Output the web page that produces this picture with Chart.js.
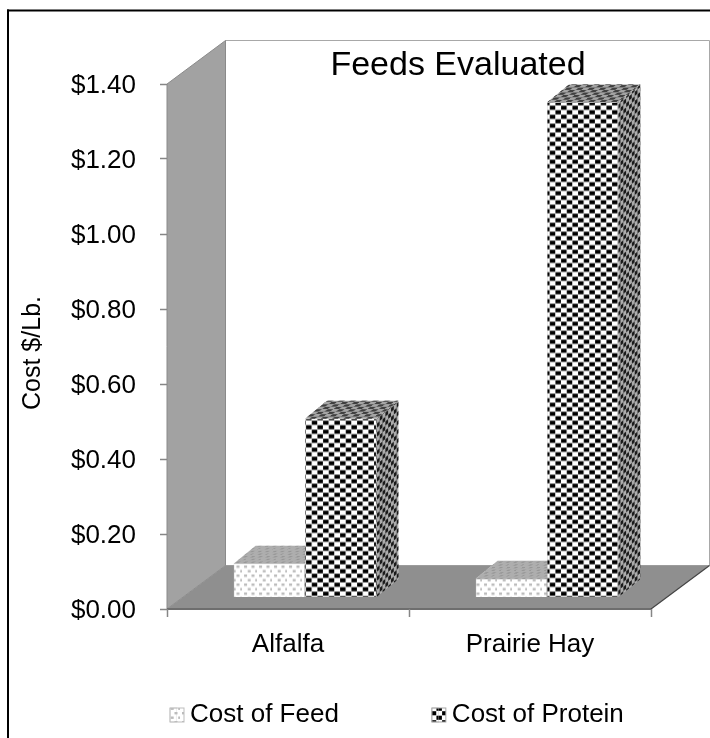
<!DOCTYPE html>
<html><head><meta charset="utf-8">
<style>html,body{margin:0;padding:0;background:#fff}canvas{display:block}</style>
<script src="https://cdn.jsdelivr.net/npm/chart.js@4"></script></head>
<body><canvas id="c" width="710" height="738"></canvas>
<script>
const categories = ['Alfalfa', 'Prairie Hay'];
const costOfFeed = [0.09, 0.05];
const costOfProtein = [0.477, 1.32];
const seriesNames = ['Cost of Feed', 'Cost of Protein'];
const yTickLabels = ['$0.00','$0.20','$0.40','$0.60','$0.80','$1.00','$1.20','$1.40'];

const FONT = '"Liberation Sans", Arial, sans-serif';
const WALL = {dx: 58.5, dy: -43.5};
const BAR_SHIFT = {x: 17, y: -11.5};
const BAR_DEPTH = {x: 22, y: -18};

function tile(w, h, paint) {
  const cv = document.createElement('canvas');
  cv.width = w; cv.height = h;
  const g = cv.getContext('2d');
  g.fillStyle = '#fff'; g.fillRect(0, 0, w, h);
  paint(g);
  return cv;
}
const checkTile = tile(34, 27, g => {
  g.fillStyle = '#000';
  const cw = 34 / 3, rh = 4.5;
  for (let r = 0; r < 6; r++) for (let c = -1; c < 3; c++) {
    g.fillRect(c * cw + (r % 2 ? cw / 2 : 0) + 0.1, r * rh + 0.2, cw / 2 - 0.2, rh - 0.4);
  }
});
const dotTile = tile(15, 9, g => {
  g.fillStyle = '#bcbcbc';
  [[2,1],[9.5,1],[5.7,5.5],[13.2,5.5]].forEach(p => g.fillRect(p[0], p[1], 3, 2.4));
});
const ctx0 = document.getElementById('c').getContext('2d');
const patProtein = ctx0.createPattern(checkTile, 'repeat');
const patFeed = ctx0.createPattern(dotTile, 'repeat');
function skewPat(cv, a, b, c, d) {
  const p = ctx0.createPattern(cv, 'repeat');
  p.setTransform(new DOMMatrix([a, b, c, d, 0, 0]));
  return p;
}
const faces = [
  {top: skewPat(dotTile, 1, 0, -0.8, 0.6), side: skewPat(dotTile, 0.5, -0.39, 0, 1), topTone: 'rgba(130,130,130,0.65)', sideTone: 'rgba(120,120,120,0.62)'},
  {top: skewPat(checkTile, 1, 0, -0.72, 0.55), side: skewPat(checkTile, 0.5, -0.39, 0, 1), topTone: 'rgba(105,105,105,0.6)', sideTone: 'rgba(60,60,60,0.42)'}
];

function poly(ctx, pts, fill, stroke) {
  ctx.beginPath();
  pts.forEach((p, i) => i ? ctx.lineTo(p[0], p[1]) : ctx.moveTo(p[0], p[1]));
  ctx.closePath();
  if (fill) { ctx.fillStyle = fill; ctx.fill(); }
  if (stroke) { ctx.strokeStyle = stroke; ctx.lineWidth = 1; ctx.stroke(); }
}

const scene = {
  id: 'scene',
  beforeLayout(chart) {
    const lg = chart.legend;
    if (lg && !lg._wrapped) {
      const fit = lg.fit.bind(lg);
      lg.fit = function () { this.maxWidth = 3000; fit(); this.height = 0; };
      lg._wrapped = true;
    }
  },
  afterLayout(chart) {
    const lg = chart.legend, t = chart.titleBlock, pad = lg.options.labels.padding;
    const y = chart.scales.y, x = chart.scales.x;
    lg.left = 170 - pad; lg.right = 1500; lg.top = 715 - 13 - pad; lg.bottom = 738;
    t.left += 49; t.right += 49; t.top += 2; t.bottom += 2;
    y.bottom += 13;
    [y, x].forEach(s => {
      if (!s._nudged) {
        const comp = s._computeLabelItems.bind(s);
        s._computeLabelItems = function (area) {
          const items = comp(area);
          items.forEach(it => { it.options.translation = [it.options.translation[0], it.options.translation[1] + 2]; });
          return items;
        };
        s._nudged = true;
      }
    });
  },
  beforeDraw(chart) {
    const {ctx, chartArea: a, scales: {y}} = chart;
    const b = y.getPixelForValue(0), tp = y.getPixelForValue(1.4);
    const L = a.left, R = a.right, dx = WALL.dx, dy = WALL.dy;
    ctx.save();
    ctx.fillStyle = '#000';
    ctx.fillRect(7, 9.5, 703, 2); ctx.fillRect(7, 9.5, 2, 729);
    poly(ctx, [[L + dx, tp + dy], [R + dx, tp + dy], [R + dx, b + dy], [L + dx, b + dy]], '#fff', '#a8a8a8');
    poly(ctx, [[L, tp], [L + dx, tp + dy], [L + dx, b + dy], [L, b]], '#a2a2a2', '#8a8a8a');
    poly(ctx, [[L, b], [L + dx, b + dy], [R + dx, b + dy], [R, b]], '#8f8f8f', null);
    ctx.strokeStyle = '#6e6e6e'; ctx.lineWidth = 2;
    ctx.beginPath(); ctx.moveTo(L, b); ctx.lineTo(R, b); ctx.stroke();
    ctx.lineWidth = 1.2; ctx.strokeStyle = '#444';
    ctx.beginPath(); ctx.moveTo(R, b); ctx.lineTo(R + dx, b + dy); ctx.stroke();
    ctx.restore();
  },
  beforeDatasetsDraw(chart) {
    const ctx = chart.ctx, d = BAR_DEPTH;
    ctx.save();
    ctx.translate(BAR_SHIFT.x, BAR_SHIFT.y);
    chart.data.datasets.forEach((ds, i) => {
      chart.getDatasetMeta(i).data.forEach(el => {
        const p = el.getProps(['x', 'y', 'base', 'width']);
        const l = p.x - p.width / 2, r = p.x + p.width / 2;
        const side = [[r, p.y], [r + d.x, p.y + d.y], [r + d.x, p.base + d.y], [r, p.base]];
        const top = [[l, p.y], [l + d.x, p.y + d.y], [r + d.x, p.y + d.y], [r, p.y]];
        poly(ctx, side, faces[i].side); poly(ctx, side, faces[i].sideTone);
        poly(ctx, top, faces[i].top); poly(ctx, top, faces[i].topTone);
      });
    });
  },
  afterDatasetsDraw(chart) { chart.ctx.restore(); },
  afterDraw(chart) {
    const ctx = chart.ctx;
    chart.legend.legendHitBoxes.forEach((h, i) => {
      const item = chart.legend.legendItems[i];
      const top = h.top + (h.height - 14) / 2;
      ctx.fillStyle = item.fillStyle;
      ctx.fillRect(h.left + 7, top, 7, 14);
      ctx.strokeStyle = item.strokeStyle; ctx.lineWidth = 1;
      ctx.strokeRect(h.left, top, 14, 14);
    });
  }
};

new Chart(document.getElementById('c'), {
  type: 'bar',
  data: {
    labels: categories,
    datasets: [
      {label: seriesNames[0], data: costOfFeed, backgroundColor: patFeed, borderColor: '#bdbdbd', borderWidth: 0.5,
       categoryPercentage: 0.59, barPercentage: 1, clip: false},
      {label: seriesNames[1], data: costOfProtein, backgroundColor: patProtein, borderColor: '#a6a6a6', borderWidth: 0.5,
       categoryPercentage: 0.59, barPercentage: 1, clip: false}
    ]
  },
  options: {
    responsive: false, animation: false,
    layout: {padding: {right: 59}},
    plugins: {
      tooltip: {enabled: false},
      title: {display: true, text: 'Feeds Evaluated', color: '#000', fullSize: false,
        font: {family: FONT, size: 34, weight: 'normal'}, padding: {top: 43.2, bottom: 0}},
      legend: {display: true, position: 'bottom', align: 'start',
        labels: {boxWidth: 7, boxHeight: 14, padding: 93, color: '#000', font: {family: FONT, size: 26}}}
    },
    scales: {
      x: {
        grid: {display: true, drawOnChartArea: false, drawTicks: true, tickLength: 8, tickColor: '#868686', tickWidth: 1.5},
        border: {display: false},
        ticks: {color: '#000', padding: 10, font: {family: FONT, size: 26}, maxRotation: 0},
        afterFit(s) { s.height = 129; }
      },
      y: {
        min: 0, max: 1.4,
        grid: {display: true, drawOnChartArea: false, drawTicks: true, tickLength: 7, tickColor: '#868686', tickWidth: 1.5},
        border: {display: false},
        ticks: {stepSize: 0.2, color: '#000', padding: 24, font: {family: FONT, size: 26},
          callback: (v, i) => yTickLabels[i]},
        title: {display: true, text: 'Cost $/Lb.', color: '#000', font: {family: FONT, size: 25}, padding: {top: 18, bottom: 0}},
        afterFit(s) { s.width = 167; }
      }
    }
  },
  plugins: [scene]
});
</script></body></html>
